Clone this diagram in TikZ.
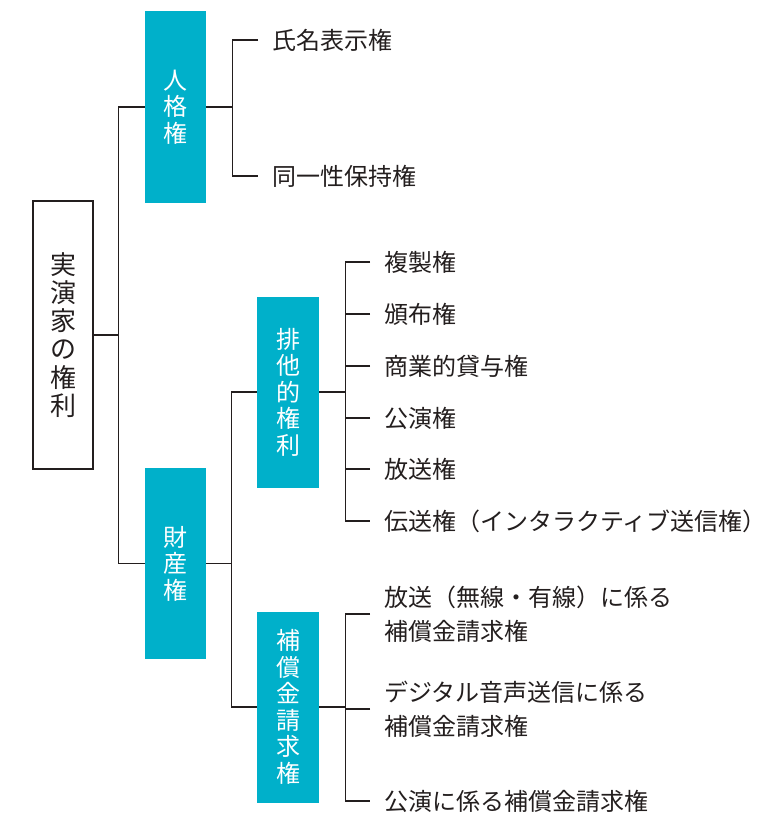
\documentclass[tikz,border=0pt]{standalone}
\usepackage{fontspec}
\setmainfont{Noto Sans CJK JP}
\usetikzlibrary{calc}

\definecolor{teal}{RGB}{0,176,202}
\definecolor{ink}{RGB}{35,30,30}

\begin{document}
\begin{tikzpicture}[x=1pt,y=-1pt,
    kenri/.style={fill=teal,text=white,inner sep=0pt,align=center,
      minimum width=61pt,minimum height=191pt,font=\fontsize{24}{26.5}\selectfont},
    leaf/.style={anchor=west,inner sep=0pt,text=ink,align=left,
      font=\fontsize{24}{34}\selectfont},
    wire/.style={draw=ink,line width=1.1pt}]
  \useasboundingbox (0,0) rectangle (776,829);

  \node[draw=ink,line width=1.1pt,inner sep=0pt,align=center,text=ink,
        minimum width=60pt,minimum height=268pt,
        font=\fontsize{26}{28.2}\selectfont] (root) at (63,335)
    {実\\演\\家\\の\\権\\利};

  \node[kenri] (jinkaku) at (175.5,107) {人\\格\\権};
  \node[kenri] (zaisan) at (175.5,563.5) {財\\産\\権};
  \node[kenri,minimum width=62pt] (haita) at (288,392) {排\\他\\的\\権\\利};
  \node[kenri,minimum width=62pt] (hosho) at (288,707) {補\\償\\金\\請\\求\\権};

  \node[leaf] (shimei) at (272,40) {氏名表示権};
  \node[leaf] (doitsu) at (272,176) {同一性保持権};

  \node[leaf] (fukusei) at (384,262) {複製権};
  \node[leaf] (hanpu) at (384,314) {頒布権};
  \node[leaf] (taiyo) at (384,366) {商業的貸与権};
  \node[leaf] (koen) at (384,418) {公演権};
  \node[leaf] (hoso) at (384,469) {放送権};
  \node[leaf] (denso) at (384,521) {伝送権（インタラクティブ送信権）};

  \node[leaf] (hosoH) at (384,614) {放送（無線・有線）に係る\\補償金請求権};
  \node[leaf] (digiH) at (384,709) {デジタル音声送信に係る\\補償金請求権};
  \node[leaf] (koenH) at (384,801) {公演に係る補償金請求権};

  % root -> jinkaku / zaisan
  \draw[wire] (root.east) -- ([xshift=-26pt]jinkaku.west |- root.east);
  \draw[wire] (jinkaku.west) -- ++(-26,0) |- (zaisan.west);

  % jinkaku -> leaves
  \draw[wire] (jinkaku.east) -- ++(26,0) coordinate (jb);
  \draw[wire] ([xshift=-14pt]shimei.west) -| (jb) |- ([xshift=-14pt]doitsu.west);

  % zaisan -> haita / hosho
  \draw[wire] (zaisan.east) -- ([xshift=-25pt]haita.west |- zaisan.east);
  \draw[wire] (haita.west) -- ++(-25,0) |- (hosho.west);

  % haita -> leaves
  \draw[wire] (haita.east) -- ++(26,0) coordinate (hb);
  \draw[wire] ([xshift=-14pt]fukusei.west) -| (hb) |- ([xshift=-14pt]denso.west);
  \foreach \n in {hanpu,taiyo,koen,hoso}
    \draw[wire] ([xshift=-14pt]\n.west) -- ([xshift=-39pt]\n.west);

  % hosho -> leaves
  \draw[wire] (hosho.east) -- ++(26,0) coordinate (sb);
  \draw[wire] ([xshift=-14pt]hosoH.west) -| (sb) |- ([xshift=-14pt]koenH.west);
  \draw[wire] ([xshift=-14pt]digiH.west) -- ([xshift=-39pt]digiH.west);

\end{tikzpicture}
\end{document}
